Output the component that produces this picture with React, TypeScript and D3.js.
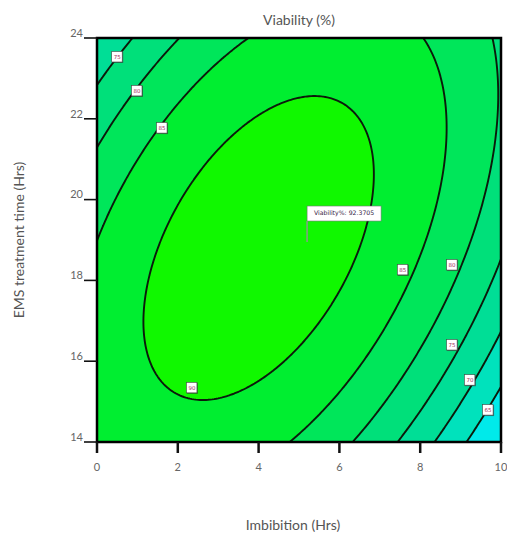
import { useEffect, useRef } from "react";
import * as d3 from "d3";

// axis ticks
const xTicks = [0, 2, 4, 6, 8, 10];
const yTicks = [14, 16, 18, 20, 22, 24];

// fitted quadratic response surface (actual factors): Intercept, A, B, AB, A^2, B^2
const modelTerms = ["Intercept", "A", "B", "AB", "A^2", "B^2"];
const modelCoefs = [13.76, -2.819, 9.03, 0.3558, -0.4837, -0.278];

// contour levels and band colours (lowest band first)
const levels = [65, 70, 75, 80, 85, 90];
const bandColors = ["#00eaea", "#00e2bc", "#00de96", "#00e07a", "#00e65a", "#00ee30", "#10f800"];

// contour label anchors (data units)
const labelLevels = [75, 80, 85, 90, 85, 80, 75, 70, 65];
const labelX = [0.5, 0.99, 1.61, 2.35, 7.57, 8.79, 8.79, 9.23, 9.68];
const labelY = [23.53, 22.69, 21.77, 15.34, 18.26, 18.38, 16.4, 15.53, 14.79];

// flag point
const flagX = 5.2;
const flagY = 18.95;

const W = 507;
const H = 536;
const margin = { left: 97, top: 38, right: 6, bottom: 94 };

function predict(a: number, b: number) {
  const t = [1, a, b, a * b, a * a, b * b];
  return d3.sum(modelCoefs, (c, i) => c * t[i]);
}

export default function App() {
  const svgRef = useRef<SVGSVGElement | null>(null);

  useEffect(() => {
    document.body.style.margin = "0";
    const svg = d3.select(svgRef.current);
    svg.selectAll("*").remove();

    const x = d3.scaleLinear().domain([0, 10]).range([margin.left, W - margin.right]);
    const y = d3.scaleLinear().domain([14, 24]).range([H - margin.bottom, margin.top]);
    const [x0, x1] = x.range();
    const [y1, y0] = y.range();

    const n = 201;
    const values: number[] = new Array(n * n);
    for (let j = 0; j < n; j++) {
      for (let i = 0; i < n; i++) {
        values[j * n + i] = predict((i / (n - 1)) * 10, 14 + (j / (n - 1)) * 10);
      }
    }

    const thresholds = [0, ...levels];
    const contours = d3.contours().size([n, n]).thresholds(thresholds)(values);

    const proj = d3.geoTransform({
      point(px: number, py: number) {
        const dx = ((px - 0.5) / (n - 1)) * 10;
        const dy = 14 + ((py - 0.5) / (n - 1)) * 10;
        this.stream.point(x(dx), y(dy));
      },
    });
    const path = d3.geoPath(proj);

    svg.append("clipPath").attr("id", "plot-clip")
      .append("rect")
      .attr("x", x0).attr("y", y0)
      .attr("width", x1 - x0).attr("height", y1 - y0);

    const plot = svg.append("g").attr("clip-path", "url(#plot-clip)");

    plot.selectAll("path.band")
      .data(contours)
      .enter()
      .append("path")
      .attr("class", "band")
      .attr("d", d => path(d as any) || "")
      .attr("fill", (_, i) => bandColors[i])
      .attr("stroke", (_, i) => (i === 0 ? "none" : "#0b1a0b"))
      .attr("stroke-width", 1.9)
      .attr("stroke-linejoin", "round");

    // contour labels
    labelLevels.forEach((lv, i) => {
      const cx = x(labelX[i]);
      const cy = y(labelY[i]);
      const g = plot.append("g").attr("transform", `translate(${cx},${cy})`);
      g.append("rect")
        .attr("x", -5).attr("y", -5).attr("width", 11).attr("height", 11)
        .attr("fill", "#333").attr("opacity", 0.6);
      g.append("rect")
        .attr("x", -5.5).attr("y", -5.5).attr("width", 10.5).attr("height", 10.5)
        .attr("fill", "#fff").attr("stroke", "#444").attr("stroke-width", 0.6);
      g.append("text")
        .attr("x", 0).attr("y", 0.3)
        .attr("text-anchor", "middle").attr("dominant-baseline", "middle")
        .attr("font-family", "DejaVu Sans").attr("font-size", 5.5)
        .attr("fill", "#a03060")
        .text(lv);
    });

    // flag
    const fx = x(flagX);
    const fy = y(flagY);
    plot.append("line")
      .attr("x1", fx).attr("x2", fx).attr("y1", fy).attr("y2", fy - 21)
      .attr("stroke", "#8a9a8a").attr("stroke-width", 1.5);
    plot.append("rect")
      .attr("x", fx).attr("y", fy - 36).attr("width", 74).attr("height", 15)
      .attr("fill", "#fff").attr("stroke", "#777").attr("stroke-width", 0.6);
    plot.append("text")
      .attr("x", fx + 37).attr("y", fy - 28.5)
      .attr("text-anchor", "middle").attr("dominant-baseline", "middle")
      .attr("font-family", "DejaVu Sans").attr("font-size", 6.2)
      .attr("fill", "#332244")
      .text(`Viability%: ${predict(flagX, flagY).toFixed(4)}`);

    // border
    svg.append("rect")
      .attr("x", x0).attr("y", y0)
      .attr("width", x1 - x0).attr("height", y1 - y0)
      .attr("fill", "none").attr("stroke", "#000").attr("stroke-width", 2.5);

    const font = "Lato, 'Open Sans', sans-serif";

    // x axis ticks
    xTicks.forEach(t => {
      svg.append("line")
        .attr("x1", x(t)).attr("x2", x(t)).attr("y1", y1).attr("y2", y1 + 11)
        .attr("stroke", "#111").attr("stroke-width", 2.5);
      svg.append("text")
        .attr("x", x(t)).attr("y", y1 + 26)
        .attr("text-anchor", "middle").attr("dominant-baseline", "middle")
        .attr("font-family", font).attr("font-size", 11).attr("fill", "#666")
        .text(t);
    });

    // y axis ticks
    yTicks.forEach(t => {
      svg.append("line")
        .attr("x1", x0 - 13).attr("x2", x0).attr("y1", y(t)).attr("y2", y(t))
        .attr("stroke", "#111").attr("stroke-width", 1.6);
      svg.append("text")
        .attr("x", x0 - 14).attr("y", y(t) - 4)
        .attr("text-anchor", "end").attr("dominant-baseline", "middle")
        .attr("font-family", font).attr("font-size", 11).attr("fill", "#666")
        .text(t);
    });

    svg.append("text")
      .attr("x", 299).attr("y", 21)
      .attr("text-anchor", "middle").attr("dominant-baseline", "middle")
      .attr("font-family", font).attr("font-size", 14).attr("fill", "#555")
      .text("Viability (%)");

    svg.append("text")
      .attr("x", 293).attr("y", 526)
      .attr("text-anchor", "middle").attr("dominant-baseline", "middle")
      .attr("font-family", font).attr("font-size", 14).attr("fill", "#555")
      .text("Imbibition (Hrs)");

    svg.append("text")
      .attr("transform", `translate(20,240) rotate(-90)`)
      .attr("text-anchor", "middle").attr("dominant-baseline", "middle")
      .attr("font-family", font).attr("font-size", 14).attr("fill", "#555")
      .text("EMS treatment time (Hrs)");
  }, []);

  return <svg ref={svgRef} width={W} height={H} style={{ display: "block", background: "#fff" }} />;
}
